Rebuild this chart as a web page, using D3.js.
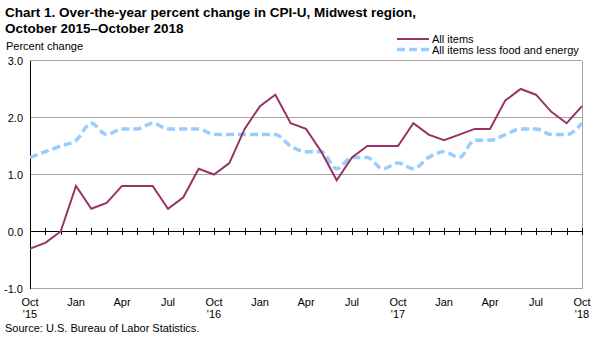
<!DOCTYPE html>
<html><head><meta charset="utf-8">
<script src="https://cdn.jsdelivr.net/npm/d3@7"></script>
<style>body{margin:0;background:#fff}svg{display:block;font-family:"Liberation Sans",Arial,sans-serif}</style>
</head><body><svg id="c" width="599" height="341"></svg>
<script>
const months = ["Oct '15","Nov","Dec","Jan","Feb","Mar","Apr","May","Jun","Jul","Aug","Sep",
 "Oct '16","Nov","Dec","Jan","Feb","Mar","Apr","May","Jun","Jul","Aug","Sep",
 "Oct '17","Nov","Dec","Jan","Feb","Mar","Apr","May","Jun","Jul","Aug","Sep","Oct '18"];
const allItems = [-0.3,-0.2,0.0,0.8,0.4,0.5,0.8,0.8,0.8,0.4,0.6,1.1,
 1.0,1.2,1.8,2.2,2.4,1.9,1.8,1.4,0.9,1.3,1.5,1.5,
 1.5,1.9,1.7,1.6,1.7,1.8,1.8,2.3,2.5,2.4,2.1,1.9,2.2];
const core = [1.3,1.4,1.5,1.6,1.9,1.7,1.8,1.8,1.9,1.8,1.8,1.8,
 1.7,1.7,1.7,1.7,1.7,1.5,1.4,1.4,1.1,1.3,1.3,1.1,
 1.2,1.1,1.3,1.4,1.3,1.6,1.6,1.7,1.8,1.8,1.7,1.7,1.9];
const yTicks = [-1,0,1,2,3];
const xLabelIdx = [0,3,6,9,12,15,18,21,24,27,30,33,36];

const svg = d3.select("#c");
const L=30,R=582,T=60.5,B=288.5;
const x = d3.scaleLinear().domain([0,months.length-1]).range([L,R]);
const y = d3.scaleLinear().domain([-1,3]).range([B,T]);

// title
svg.append("text").attr("x",5).attr("y",17).attr("font-size",13.5).attr("font-weight","bold")
  .text("Chart 1. Over-the-year percent change in CPI-U, Midwest region,");
svg.append("text").attr("x",5).attr("y",33).attr("font-size",13.5).attr("font-weight","bold")
  .text("October 2015\u2013October  2018");
svg.append("text").attr("x",6).attr("y",50).attr("font-size",11).text("Percent change");

// grid
svg.append("g").selectAll("line").data(yTicks.filter(d=>d!==0)).join("line")
  .attr("x1",L).attr("x2",R).attr("y1",d=>y(d)).attr("y2",d=>y(d))
  .attr("stroke","#a6a6a6").attr("stroke-width",1).attr("shape-rendering","crispEdges");
svg.append("line").attr("x1",R).attr("x2",R).attr("y1",T).attr("y2",B)
  .attr("stroke","#a6a6a6").attr("shape-rendering","crispEdges");
// y labels
svg.append("g").selectAll("text").data(yTicks).join("text")
  .attr("x",23).attr("y",d=>y(d)+4).attr("text-anchor","end").attr("font-size",11)
  .text(d=>d.toFixed(1));
// left axis
svg.append("line").attr("x1",L).attr("x2",L).attr("y1",T).attr("y2",B)
  .attr("stroke","#000").attr("shape-rendering","crispEdges");
// zero axis with ticks
const xAxis = d3.axisBottom(x).tickValues(d3.range(months.length)).tickSize(7).tickFormat("");
const g0 = svg.append("g").attr("transform",`translate(0,${y(0)-3.5})`).call(xAxis);
g0.select(".domain").remove();
g0.selectAll("line").attr("stroke","#000").attr("shape-rendering","crispEdges");
svg.append("line").attr("x1",L).attr("x2",R).attr("y1",y(0)).attr("y2",y(0))
  .attr("stroke","#000").attr("shape-rendering","crispEdges");

// x labels
const xl = svg.append("g").selectAll("text").data(xLabelIdx).join("text")
  .attr("x",d=>x(d)).attr("text-anchor","middle").attr("font-size",11);
xl.each(function(d){
  const parts = months[d].split(" ");
  d3.select(this).append("tspan").attr("x",x(d)).attr("y",306).text(parts[0]);
  if(parts[1]) d3.select(this).append("tspan").attr("x",x(d)).attr("y",318).text(parts[1]);
});

// lines
const line = d3.line().x((d,i)=>x(i)).y(d=>y(d));
svg.append("path").datum(core).attr("d",line.curve(d3.curveMonotoneX)).attr("fill","none")
  .attr("stroke","#99ccff").attr("stroke-width",3.5).attr("stroke-dasharray","8,4");
svg.append("path").datum(allItems).attr("d",d3.line().x((d,i)=>x(i)).y(d=>y(d))).attr("fill","none")
  .attr("stroke","#993366").attr("stroke-width",2);

// legend
svg.append("line").attr("x1",397).attr("x2",429).attr("y1",39).attr("y2",39).attr("stroke","#993366").attr("stroke-width",2);
svg.append("text").attr("x",432).attr("y",43).attr("font-size",11).text("All items");
svg.append("line").attr("x1",397).attr("x2",429).attr("y1",49.5).attr("y2",49.5).attr("stroke","#99ccff").attr("stroke-width",3.5).attr("stroke-dasharray","8,4");
svg.append("text").attr("x",432).attr("y",53.5).attr("font-size",11).text("All items less food and energy");

svg.append("text").attr("x",5).attr("y",332).attr("font-size",11).text("Source: U.S. Bureau of Labor Statistics.");
</script></body></html>
